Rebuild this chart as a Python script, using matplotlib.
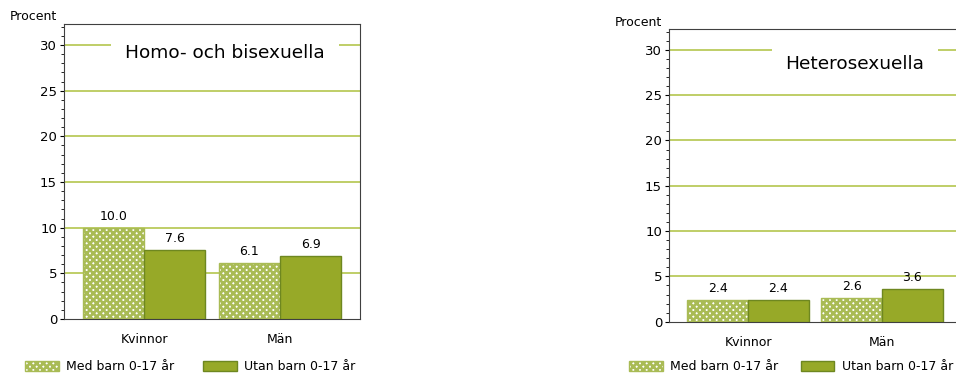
import matplotlib
matplotlib.use('Agg')
import matplotlib.pyplot as plt
import numpy as np
from matplotlib.ticker import MultipleLocator
from matplotlib.patches import Patch

categories = ['Kvinnor', 'Män']
series = ['Med barn 0-17 år', 'Utan barn 0-17 år']
homo_med = [10.0, 6.1]
homo_utan = [7.6, 6.9]
hetero_med = [2.4, 2.6]
hetero_utan = [2.4, 3.6]
yticks = [0, 5, 10, 15, 20, 25, 30]

green = '#97a928'
edge = '#6e8720'
grid_c = '#b4c64e'
plt.rcParams['hatch.linewidth'] = 2.0
plt.rcParams['hatch.color'] = '#9db136'
plt.rcParams['font.family'] = ['DejaVu Sans']

W, H = 956, 378
fig = plt.figure(figsize=(W / 100, H / 100), dpi=100)


def draw(rect, med, utan, title, title_xy, procent_xy, legend_x, colspace):
    ax = fig.add_axes(rect)
    x = np.arange(len(categories))
    bw = 0.452
    ax.bar(x - bw / 2, med, bw, facecolor='white', edgecolor='#a9bb55',
           hatch='xxxxx', linewidth=1.0, zorder=3)
    ax.bar(x + bw / 2, utan, bw, facecolor=green, edgecolor=edge,
           linewidth=1.0, zorder=3)
    for xi, v in zip(x - bw / 2, med):
        ax.text(xi, v + 0.55, f'{v:.1f}', ha='center', va='bottom', fontsize=9, zorder=4)
    for xi, v in zip(x + bw / 2, utan):
        ax.text(xi, v + 0.55, f'{v:.1f}', ha='center', va='bottom', fontsize=9, zorder=4)
    ax.set_xlim(-0.59, 1.59)
    ax.set_ylim(0, 32.3)
    ax.set_yticks(yticks)
    ax.yaxis.set_minor_locator(MultipleLocator(1))
    for t in yticks[1:]:
        ax.axhline(t, color=grid_c, linewidth=1.2, zorder=1)
    ax.tick_params(axis='y', which='major', length=3, width=0.8, labelsize=9.5, pad=2)
    ax.tick_params(axis='y', which='minor', length=2, width=0.6)
    ax.tick_params(axis='x', length=0, labelsize=9, pad=10)
    ax.set_xticks(x)
    ax.set_xticklabels(categories)
    for s in ax.spines.values():
        s.set_color('#404040')
        s.set_linewidth(0.8)
    ax.text(title_xy[0], title_xy[1], title, transform=fig.transFigure,
            ha='center', va='center', fontsize=13.3,
            bbox=dict(facecolor='white', edgecolor='none', pad=10), zorder=5)
    fig.text(procent_xy[0], procent_xy[1], 'Procent', ha='center', va='center', fontsize=9)
    handles = [Patch(facecolor='white', edgecolor='#a9bb55', hatch='xxxxx'),
               Patch(facecolor=green, edgecolor=edge)]
    fig.legend(handles, series, loc='center left', ncol=2,
               bbox_to_anchor=(legend_x, 1 - 367 / H), frameon=False,
               fontsize=9, handlelength=2.7, handleheight=0.9,
               columnspacing=colspace, handletextpad=0.6, borderpad=0.2)
    return ax


draw([64 / W, 1 - 319 / H, 296 / W, 295 / H], homo_med, homo_utan,
     'Homo- och bisexuella', (225 / W, 1 - 53 / H), (33 / W, 1 - 16 / H), 16 / W, 2.3)
draw([669 / W, 1 - 321.7 / H, 292 / W, 292.7 / H], hetero_med, hetero_utan,
     'Heterosexuella', (855 / W, 1 - 64 / H), (638 / W, 1 - 22 / H), 620 / W, 1.8)

fig.savefig('out.png', dpi=100)
